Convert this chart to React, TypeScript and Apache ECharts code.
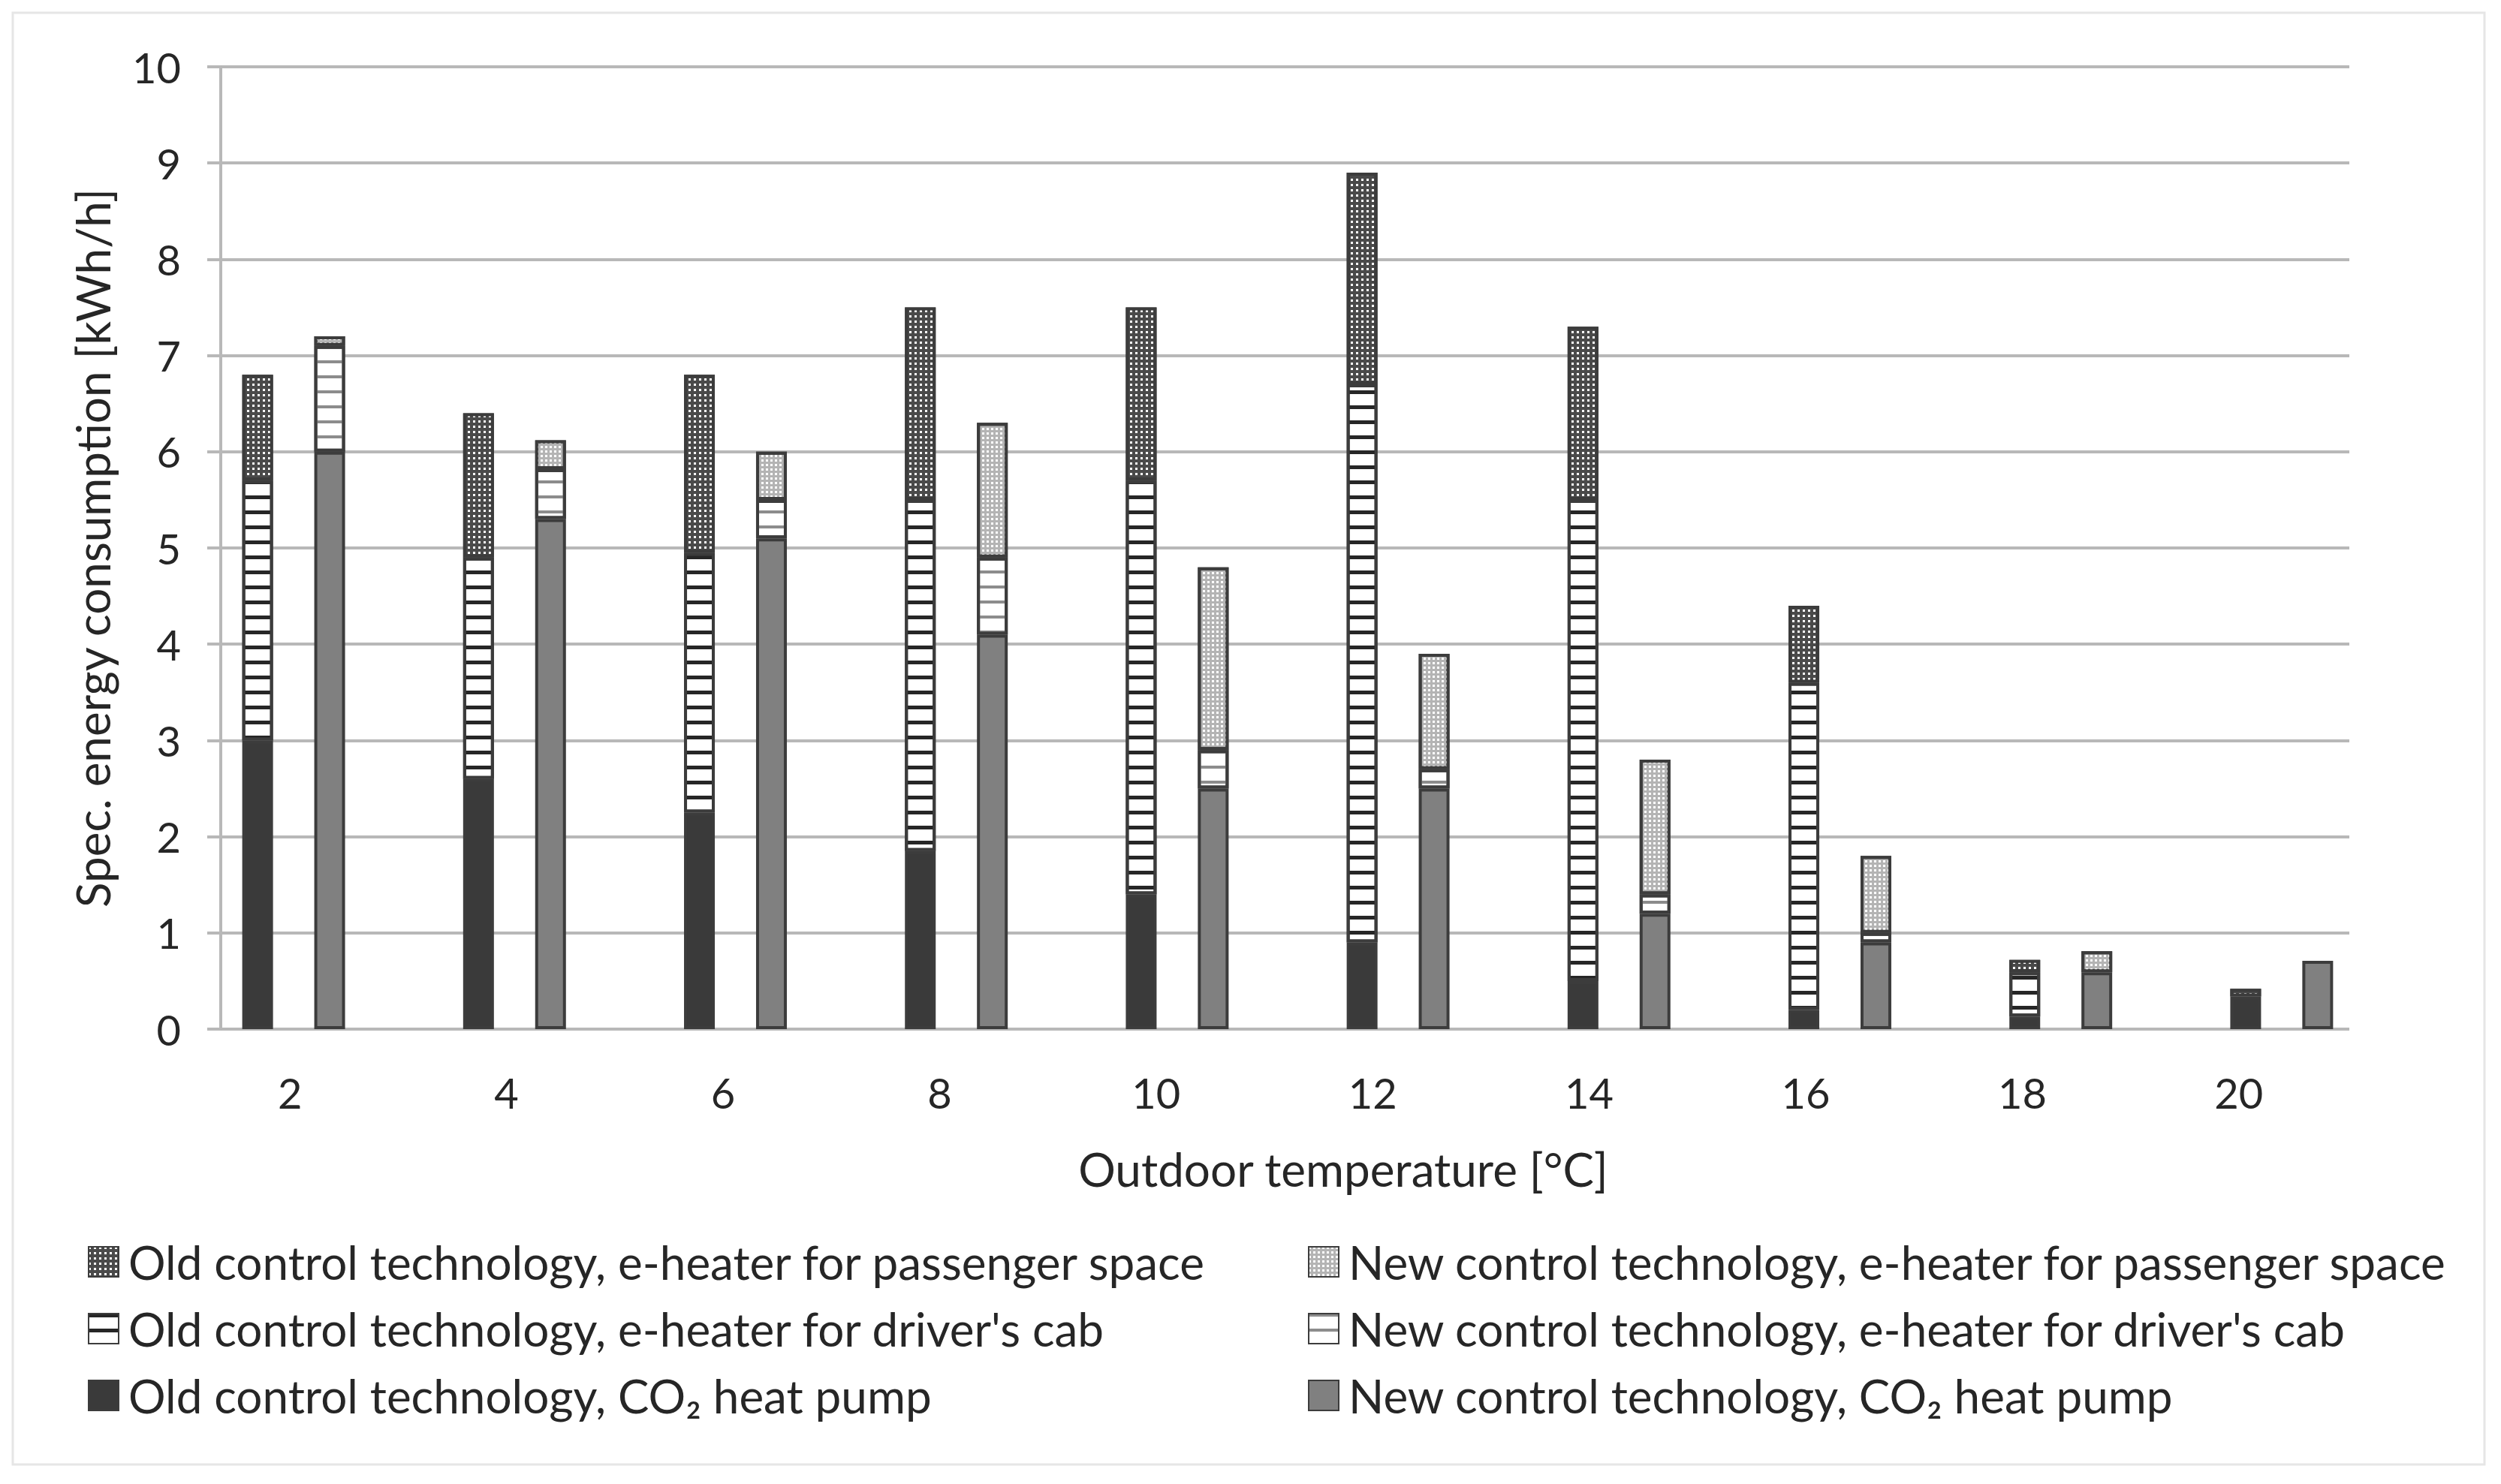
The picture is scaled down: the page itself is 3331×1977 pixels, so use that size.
import React, { useEffect, useRef } from 'react';
import * as echarts from 'echarts';

// ---- data ----
const categories = ['2', '4', '6', '8', '10', '12', '14', '16', '18', '20'];
const yTicks = { min: 0, max: 10, interval: 1 };

const oldCO2 = [3.0, 2.6, 2.25, 1.85, 1.4, 0.9, 0.5, 0.2, 0.13, 0.34];
const oldCab = [2.7, 2.3, 2.7, 3.65, 4.3, 5.8, 5.0, 3.4, 0.46, 0];
const oldPass = [1.1, 1.5, 1.85, 2.0, 1.8, 2.2, 1.8, 0.8, 0.13, 0.08];

const newCO2 = [6.0, 5.3, 5.1, 4.1, 2.5, 2.5, 1.2, 0.9, 0.59, 0.71];
const newCab = [1.1, 0.52, 0.4, 0.8, 0.4, 0.2, 0.2, 0.1, 0, 0];
const newPass = [0.1, 0.3, 0.5, 1.4, 1.9, 1.2, 1.4, 0.8, 0.22, 0];

const names = {
  oldPass: 'Old control technology, e-heater for passenger space',
  oldCab: "Old control technology, e-heater for driver's cab",
  oldCO2: 'Old control technology, CO\u2082 heat pump',
  newPass: 'New control technology, e-heater for passenger space',
  newCab: "New control technology, e-heater for driver's cab",
  newCO2: 'New control technology, CO\u2082 heat pump',
};

const FONT = 'Lato, "Open Sans", sans-serif';
const TEXT = '#262626';
const GRID = '#b8b8b8';
const BORDER = '#3c3c3c';

const stripesDark = { symbol: 'rect', symbolSize: 1, color: '#262626', dashArrayX: [1, 0], dashArrayY: [5, 15] };
const stripesLight = { symbol: 'rect', symbolSize: 1, color: '#8c8c8c', dashArrayX: [1, 0], dashArrayY: [4, 16] };
const dotsDark = { symbol: 'rect', symbolSize: 1, color: '#ffffff', dashArrayX: [3, 4], dashArrayY: [3, 4] };
const dotsLight = { symbol: 'rect', symbolSize: 1, color: '#ffffff', dashArrayX: [3, 3], dashArrayY: [3, 3] };

const clean = (arr: number[]) => arr.map((v) => (v === 0 ? '-' : v));

function bar(name: string, stack: string, data: number[], color: string, decal?: any) {
  const itemStyle: any = { color, borderColor: BORDER, borderWidth: 4 };
  if (decal) itemStyle.decal = decal;
  return {
    type: 'bar',
    name,
    stack,
    data: clean(data),
    xAxisIndex: 1,
    yAxisIndex: 1,
    barWidth: 41,
    barGap: '134%',
    itemStyle,
    emphasis: { disabled: true },
  };
}

export default function App() {
  const ref = useRef<HTMLDivElement>(null);
  useEffect(() => {
    const chart = echarts.init(ref.current!, undefined, { renderer: 'svg', width: 3331, height: 1977 });
    const legendCommon = {
      orient: 'vertical',
      top: 1650,
      itemWidth: 40,
      itemHeight: 40,
      itemGap: 27,
      padding: 0,
      icon: 'rect',
      selectedMode: false,
      textStyle: { fontSize: 62, fontFamily: FONT, color: TEXT, padding: [0, 0, 0, 8] },
    };
    const option: any = {
      animation: false,
      backgroundColor: '#ffffff',
      grid: [
        { left: 294, top: 89, width: 2835, height: 1282 },
        { left: 244, top: 89, width: 2942, height: 1282 },
        { left: 242, top: 89, width: 2884, height: 1282 },
      ],
      xAxis: [
        { gridIndex: 0, type: 'value', show: false, min: 0, max: 1 },
        { gridIndex: 1, type: 'category', data: categories, show: false },
        {
          gridIndex: 2,
          type: 'category',
          data: categories,
          axisLine: { show: false },
          axisTick: { show: false },
          axisLabel: { fontSize: 56, fontFamily: FONT, color: TEXT, margin: 56 },
        },
      ],
      yAxis: [
        {
          gridIndex: 0,
          type: 'value',
          min: yTicks.min,
          max: yTicks.max,
          interval: yTicks.interval,
          axisLine: { show: true, lineStyle: { color: GRID, width: 4 } },
          axisTick: { show: true, length: 18, lineStyle: { color: GRID, width: 4 } },
          splitLine: { show: true, lineStyle: { color: GRID, width: 4 } },
          axisLabel: { fontSize: 56, fontFamily: FONT, color: TEXT, margin: 53 },
        },
        { gridIndex: 1, type: 'value', min: yTicks.min, max: yTicks.max, show: false },
        { gridIndex: 2, type: 'value', min: yTicks.min, max: yTicks.max, show: false },
      ],
      legend: [
        { ...legendCommon, left: 117, data: [names.oldPass, names.oldCab, names.oldCO2] },
        { ...legendCommon, left: 1742, data: [names.newPass, names.newCab, names.newCO2] },
      ],
      graphic: [
        {
          type: 'rect',
          silent: true,
          z: -10,
          shape: { x: 17, y: 17, width: 3292, height: 1934 },
          style: { fill: 'none', stroke: '#e6e6e6', lineWidth: 3 },
        },
        {
          type: 'text',
          x: 123,
          y: 730,
          rotation: Math.PI / 2,
          style: {
            text: 'Spec. energy consumption [kWh/h]',
            fontSize: 62,
            fontFamily: FONT,
            fill: TEXT,
            align: 'center',
            verticalAlign: 'middle',
          },
        },
        {
          type: 'text',
          x: 1789,
          y: 1557,
          style: {
            text: 'Outdoor temperature [°C]',
            fontSize: 62,
            fontFamily: FONT,
            fill: TEXT,
            align: 'center',
            verticalAlign: 'middle',
          },
        },
      ],
      series: [
        bar(names.oldCO2, 'old', oldCO2, '#3a3a3a'),
        bar(names.oldCab, 'old', oldCab, '#ffffff', stripesDark),
        bar(names.oldPass, 'old', oldPass, '#4a4a4a', dotsDark),
        bar(names.newCO2, 'new', newCO2, '#808080'),
        bar(names.newCab, 'new', newCab, '#ffffff', stripesLight),
        bar(names.newPass, 'new', newPass, '#b4b4b4', dotsLight),
      ],
    };
    chart.setOption(option);
    return () => chart.dispose();
  }, []);
  return (
    <div
      ref={ref}
      style={{ position: 'absolute', left: 0, top: 0, width: 3331, height: 1977, background: '#ffffff' }}
    />
  );
}
